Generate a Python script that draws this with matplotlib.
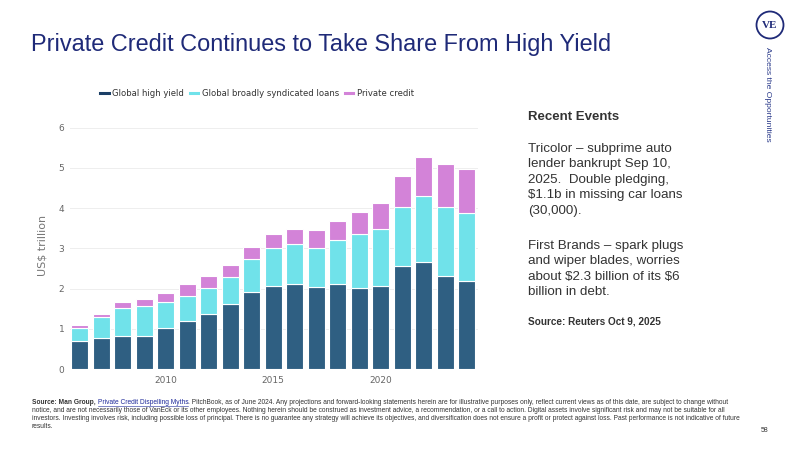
import matplotlib
matplotlib.use("Agg")
import matplotlib.pyplot as plt
from matplotlib.lines import Line2D
from matplotlib.patches import Circle
import numpy as np

years = [2006, 2007, 2008, 2009, 2010, 2011, 2012, 2013, 2014, 2015,
         2016, 2017, 2018, 2019, 2020, 2021, 2022, 2023, 2024]
high_yield = [0.71, 0.78, 0.83, 0.83, 1.02, 1.19, 1.38, 1.61, 1.93, 2.07,
              2.12, 2.04, 2.12, 2.01, 2.06, 2.57, 2.66, 2.31, 2.18]
syndicated_loans = [0.31, 0.51, 0.68, 0.73, 0.64, 0.62, 0.64, 0.67, 0.80, 0.93,
                    0.98, 0.98, 1.10, 1.34, 1.41, 1.45, 1.64, 1.71, 1.69]
private_credit = [0.07, 0.08, 0.15, 0.18, 0.24, 0.31, 0.29, 0.31, 0.30, 0.36,
                  0.39, 0.44, 0.47, 0.56, 0.66, 0.78, 0.97, 1.07, 1.10]
series_names = ["Global high yield", "Global broadly syndicated loans", "Private credit"]
yticks = [0, 1, 2, 3, 4, 5, 6]
xticks = [2010, 2015, 2020]

c_hy = "#2f5f82"
c_bsl = "#70e2ea"
c_pc = "#d383d8"
c_hy_leg = "#1b3f66"

W, H = 800, 450
fig = plt.figure(figsize=(8, 4.5), dpi=100)

def fx(px):
    return px / W

def fy(py):
    return 1 - py / H

# axes
ax_left, ax_right = 70, 478
y0_px, unit_px = 369.3, 40.3
ytop = 6.15
ax_bottom_px = y0_px
ax_top_px = y0_px - ytop * unit_px
ax = fig.add_axes([fx(ax_left), fy(ax_bottom_px), fx(ax_right - ax_left), (ax_bottom_px - ax_top_px) / H])

x = np.array(years, dtype=float)
hy = np.array(high_yield)
bsl = np.array(syndicated_loans)
pc = np.array(private_credit)
bw = 0.8
ax.bar(x, hy, width=bw, color=c_hy, edgecolor="white", linewidth=0.8, zorder=2)
ax.bar(x, bsl, width=bw, bottom=hy, color=c_bsl, edgecolor="white", linewidth=0.8, zorder=2)
ax.bar(x, pc, width=bw, bottom=hy + bsl, color=c_pc, edgecolor="white", linewidth=0.8, zorder=2)

ax.set_xlim(2005.55, 2024.52)
ax.set_ylim(0, ytop)
ax.set_yticks(yticks)
ax.set_xticks(xticks)
ax.tick_params(axis="both", length=0, labelsize=6.5, labelcolor="#666666", pad=4)
ax.tick_params(axis="x", pad=5)
for s in ax.spines.values():
    s.set_visible(False)
ax.yaxis.grid(True, color="#eeeeee", linewidth=0.7, zorder=0)
ax.set_axisbelow(True)
ax.set_ylabel("US$ trillion", fontsize=8, color="#777777")
ax.yaxis.set_label_coords(-0.054, 0.5)

handles = [Line2D([0], [0], color=c, lw=2.2) for c in (c_hy_leg, c_bsl, c_pc)]
fig.legend(handles, series_names, loc="center", bbox_to_anchor=(fx(257), fy(93)),
           ncol=3, frameon=False, fontsize=6.1, handlelength=1.0, handletextpad=0.4,
           columnspacing=0.7, labelcolor="#333333")

# title
fig.text(fx(31), fy(45), "Private Credit Continues to Take Share From High Yield",
         fontsize=16.9, color="#1f2a78", family="Liberation Sans", va="center", ha="left")

# logo
logo_ax = fig.add_axes([fx(755), fy(40), fx(30), 30 / H])
logo_ax.set_xlim(0, 1)
logo_ax.set_ylim(0, 1)
logo_ax.set_aspect("equal")
logo_ax.axis("off")
logo_ax.add_patch(Circle((0.5, 0.5), 0.45, fill=False, ec="#1f2a78", lw=1.3))
logo_ax.text(0.5, 0.48, "VE", ha="center", va="center", fontsize=8, color="#1f2a78",
             family="Liberation Serif", fontweight="bold")
fig.text(fx(768), fy(94), "Access the Opportunities", rotation=-90, ha="center", va="center",
         fontsize=6.1, color="#2a3a8a", family="Liberation Sans")

# right side text
fig.text(fx(528), fy(117), "Recent Events", fontsize=9.5, fontweight="bold",
         color="#333333", family="Liberation Sans", va="center")
body1 = ("Tricolor \u2013 subprime auto\nlender bankrupt Sep 10,\n2025.  Double pledging,\n"
         "\\$1.1b in missing car loans\n(30,000).")
body2 = ("First Brands \u2013 spark plugs\nand wiper blades, worries\nabout \\$2.3 billion of its \\$6\n"
         "billion in debt.")
fig.text(fx(528), fy(143), body1, fontsize=9.6, color="#333333", family="Liberation Sans",
         va="top", linespacing=1.385)
fig.text(fx(528), fy(240), body2, fontsize=9.6, color="#333333", family="Liberation Sans",
         va="top", linespacing=1.385)
fig.text(fx(528), fy(322), "Source: Reuters Oct 9, 2025", fontsize=7.2, fontweight="bold",
         color="#333333", family="Liberation Sans", va="center")

# footer
foot_font = ["Liberation Sans Narrow", "Liberation Sans"]
fs = 4.75
fig.canvas.draw()
r = fig.canvas.get_renderer()
line_y = [403, 411, 419, 427]
t1 = fig.text(fx(32), fy(line_y[0]), "Source: Man Group, ", fontsize=fs, fontweight="bold",
              color="#333333", family=foot_font, va="center")
bb = t1.get_window_extent(r)
t2 = fig.text(bb.x1 / W, fy(line_y[0]), "Private Credit Dispelling Myths", fontsize=fs,
              color="#1f2a9a", family=foot_font, va="center")
bb2 = t2.get_window_extent(r)
fig.add_artist(Line2D([bb2.x0 / W, bb2.x1 / W], [fy(line_y[0] + 2.8), fy(line_y[0] + 2.8)],
                      color="#1f2a9a", lw=0.4))
rest1 = (". PitchBook, as of June 2024. Any projections and forward-looking statements herein are for "
         "illustrative purposes only, reflect current views as of this date, are subject to change without")
fig.text(bb2.x1 / W, fy(line_y[0]), rest1, fontsize=fs, color="#333333", family=foot_font, va="center")
rest_lines = [
    "notice, and are not necessarily those of VanEck or its other employees. Nothing herein should be "
    "construed as investment advice, a recommendation, or a call to action. Digital assets involve "
    "significant risk and may not be suitable for all",
    "investors. Investing involves risk, including possible loss of principal. There is no guarantee any "
    "strategy will achieve its objectives, and diversification does not ensure a profit or protect "
    "against loss. Past performance is not indicative of future",
    "results.",
]
for ly, txt in zip(line_y[1:], rest_lines):
    fig.text(fx(32), fy(ly), txt, fontsize=fs, color="#333333", family=foot_font, va="center")
fig.text(fx(768), fy(431), "58", fontsize=5, color="#333333", family=foot_font, va="center",
         ha="right")

fig.savefig("out.png", dpi=100)
